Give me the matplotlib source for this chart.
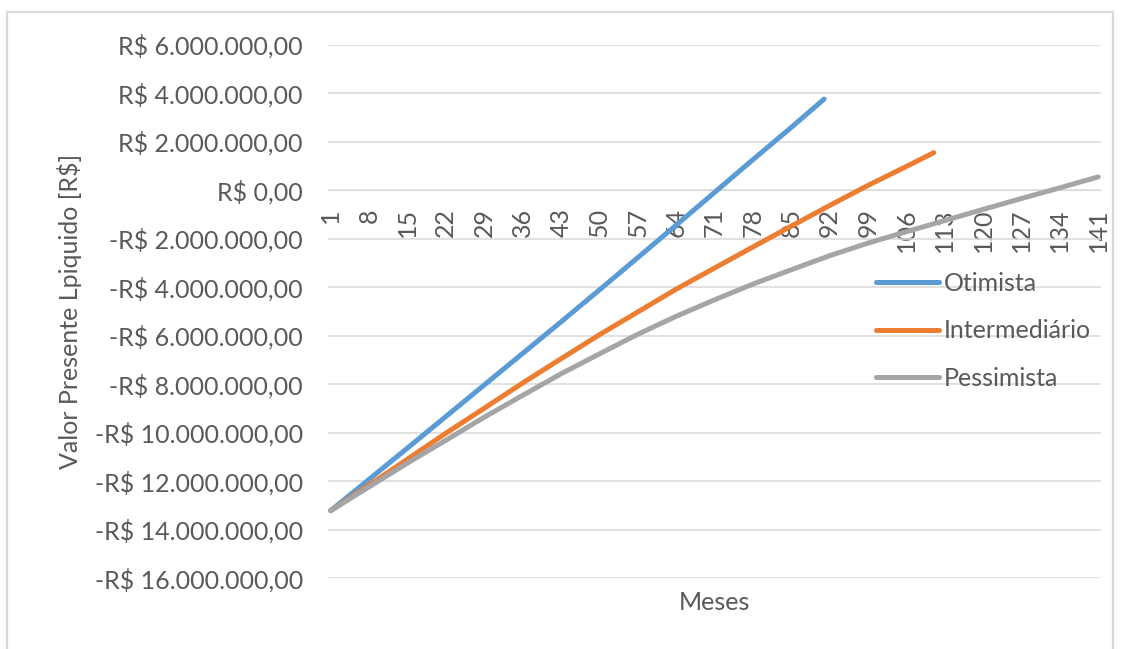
import numpy as np
import matplotlib.pyplot as plt
from matplotlib.patches import Rectangle

plt.rcParams['font.family'] = ['Lato', 'DejaVu Sans']

meses_otimista = [1, 8, 15, 22, 29, 36, 43, 50, 57, 64, 71, 78, 85, 91]
vpl_otimista = [-13.22, -11.93, -10.64, -9.34, -8.04, -6.74, -5.44, -4.12,
                -2.79, -1.45, -0.10, 1.25, 2.58, 3.75]

meses_intermediario = [1, 8, 15, 22, 29, 36, 43, 50, 57, 64, 71, 78, 85, 92,
                       99, 106, 111]
vpl_intermediario = [-13.22, -12.17, -11.10, -10.03, -9.00, -7.96, -6.96, -5.97,
                     -5.03, -4.09, -3.22, -2.35, -1.49, -0.64, 0.19, 0.97, 1.54]

meses_pessimista = [1, 8, 15, 22, 29, 36, 43, 50, 57, 64, 71, 78, 85, 92, 99,
                    106, 113, 120, 127, 134, 141]
vpl_pessimista = [-13.22, -12.24, -11.26, -10.32, -9.37, -8.47, -7.58, -6.76,
                  -5.95, -5.21, -4.53, -3.88, -3.29, -2.71, -2.19, -1.72, -1.26,
                  -0.80, -0.35, 0.09, 0.54]

rotulos_meses = list(range(1, 142, 7))
valores_y = list(range(-16, 7, 2))
rotulos_y = ['-R$ 16.000.000,00', '-R$ 14.000.000,00', '-R$ 12.000.000,00',
             '-R$ 10.000.000,00', '-R$ 8.000.000,00', '-R$ 6.000.000,00',
             '-R$ 4.000.000,00', '-R$ 2.000.000,00', 'R$ 0,00',
             'R$ 2.000.000,00', 'R$ 4.000.000,00', 'R$ 6.000.000,00']

cinza_texto = '#595959'
fs = 18

fig = plt.figure(figsize=(11.24, 6.49), dpi=100)
ax = fig.add_axes([328 / 1124, 1 - 578 / 649, 773 / 1124, 533.5 / 649])

ax.plot(meses_otimista, np.array(vpl_otimista) * 1e6, color='#5B9BD5', lw=3.6,
        solid_capstyle='round', solid_joinstyle='round', label='Otimista', zorder=3)
ax.plot(meses_intermediario, np.array(vpl_intermediario) * 1e6, color='#ED7D31',
        lw=3.6, solid_capstyle='round', solid_joinstyle='round',
        label='Intermediário', zorder=3)
ax.plot(meses_pessimista, np.array(vpl_pessimista) * 1e6, color='#A5A5A5', lw=3.6,
        solid_capstyle='round', solid_joinstyle='round', label='Pessimista', zorder=3)

ax.set_xlim(0.5, 141.5)
ax.set_ylim(-16e6, 6e6)

ax.grid(axis='y', color='#D9D9D9', lw=1.1)
ax.set_axisbelow(True)
for s in ['left', 'right', 'top']:
    ax.spines[s].set_visible(False)
# eixo das categorias cruzando em zero
ax.spines['bottom'].set_position(('data', 0))
ax.spines['bottom'].set_color('#D9D9D9')

ax.set_yticks([v * 1e6 for v in valores_y])
ax.set_yticklabels(rotulos_y)
ax.set_xticks(rotulos_meses)
ax.set_xticklabels([str(m) for m in rotulos_meses])
ax.tick_params(axis='x', length=0, pad=13, labelsize=fs, labelcolor=cinza_texto,
               labelrotation=90)
ax.tick_params(axis='y', length=0, pad=18, labelsize=fs, labelcolor=cinza_texto)

ax.set_ylabel('Valor Presente Lpiquido [R$]', fontsize=fs, color=cinza_texto)
ax.yaxis.set_label_coords(-0.318, 0.5)
fig.text(714.5 / 1124, 1 - 603 / 649, 'Meses', ha='center', va='center',
         fontsize=fs, color=cinza_texto)

leg = ax.legend(loc='center left', bbox_to_anchor=(876 / 1124, 1 - 331 / 649),
                bbox_transform=fig.transFigure, frameon=False, fontsize=fs,
                handlelength=2.5, handletextpad=0.2, labelspacing=0.98,
                borderpad=0, borderaxespad=0)
for t in leg.get_texts():
    t.set_color(cinza_texto)

fig.patches.append(Rectangle((7 / 1124, -0.05), 1106 / 1124, 1 - 12 / 649 + 0.05,
                             transform=fig.transFigure, fill=False,
                             edgecolor='#D9D9D9', lw=1.6))

fig.savefig('out.png', dpi=100)
